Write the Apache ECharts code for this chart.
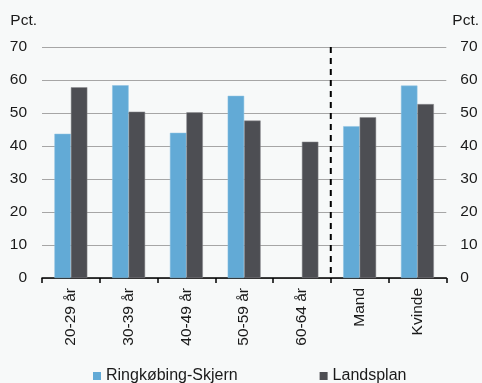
<!DOCTYPE html>
<html>
<head>
<meta charset="utf-8">
<script src="https://cdn.jsdelivr.net/npm/echarts@6/dist/echarts.min.js"></script>
<style>
html,body{margin:0;padding:0;background:#F7F9F9;}
#c{width:482px;height:383px;}
</style>
</head>
<body>
<div id="c"></div>
<script>
const categories = ['20-29 år', '30-39 år', '40-49 år', '50-59 år', '60-64 år', 'Mand', 'Kvinde'];
const ringkobing = [43.7, 58.4, 44.0, 55.2, null, 46.0, 58.3];
const landsplan = [57.8, 50.4, 50.2, 47.7, 41.3, 48.7, 52.7];
const seriesNames = ['Ringkøbing-Skjern', 'Landsplan'];
const yTicks = { min: 0, max: 70, interval: 10 };
const dividerAt = 5; // boundary between age groups and gender (in category units)

const font = 'Liberation Sans, Arial, sans-serif';
const txt = '#1a1a1a';

const chart = echarts.init(document.getElementById('c'), null, { renderer: 'canvas' });
chart.setOption({
  backgroundColor: '#F7F9F9',
  animation: false,
  grid: { left: 42, right: 35, top: 47, bottom: 105 },
  legend: {
    data: seriesNames,
    top: 368, left: 93,
    itemWidth: 8, itemHeight: 8, itemGap: 82,
    icon: 'rect',
    padding: 0,
    itemStyle: { borderWidth: 0 },
    textStyle: { fontSize: 16, color: txt, fontFamily: font }
  },
  xAxis: [{
    type: 'category',
    data: categories,
    axisLine: { lineStyle: { color: '#000', width: 1.5 } },
    axisTick: { show: true, length: 5, lineStyle: { color: '#000', width: 1.5 } },
    axisLabel: { rotate: 90, margin: 10, fontSize: 15.5, color: txt, fontFamily: font },
    splitLine: { show: false }
  }, {
    type: 'value', min: 0, max: categories.length, show: false
  }],
  yAxis: [{
    type: 'value', min: yTicks.min, max: yTicks.max, interval: yTicks.interval,
    position: 'left',
    name: 'Pct.', nameLocation: 'end', nameGap: 18,
    nameTextStyle: { fontSize: 15.5, color: txt, fontFamily: font, align: 'right', padding: [0, 5, 0, 0] },
    axisLine: { show: false }, axisTick: { show: false },
    axisLabel: { margin: 15, fontSize: 15.5, color: txt, fontFamily: font },
    splitLine: { lineStyle: { color: '#A6A6A6', width: 1 } }
  }, {
    type: 'value', min: yTicks.min, max: yTicks.max, interval: yTicks.interval,
    position: 'right',
    name: 'Pct.', nameLocation: 'end', nameGap: 18,
    nameTextStyle: { fontSize: 15.5, color: txt, fontFamily: font, align: 'left', padding: [0, 0, 0, 6] },
    axisLine: { show: false }, axisTick: { show: false },
    axisLabel: { margin: 14, fontSize: 15.5, color: txt, fontFamily: font },
    splitLine: { show: false }
  }],
  series: [{
    name: seriesNames[0], type: 'bar', data: ringkobing,
    barGap: 0, barCategoryGap: '43%',
    itemStyle: { color: '#62AAD6', borderColor: '#8CC2E3', borderWidth: 0.5 }
  }, {
    name: seriesNames[1], type: 'bar', data: landsplan,
    barGap: 0, barCategoryGap: '43%',
    itemStyle: { color: '#4D4E53', borderColor: '#8A8B8F', borderWidth: 0.5 }
  }, {
    type: 'line', xAxisIndex: 1, yAxisIndex: 0,
    data: [[dividerAt, yTicks.max], [dividerAt, yTicks.min - 1.5]],
    symbol: 'none', silent: true, z: 5,
    lineStyle: { color: '#000', width: 2, type: [6, 5] }
  }]
});
</script>
</body>
</html>
